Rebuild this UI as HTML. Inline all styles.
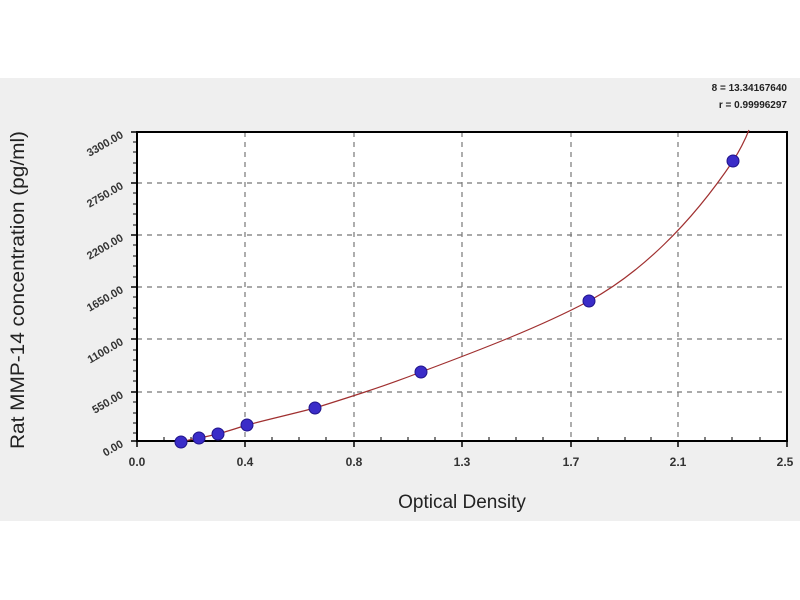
<!DOCTYPE html>
<html><head><meta charset="utf-8"><style>
html,body{margin:0;padding:0;background:#fff;}
svg{display:block;font-family:"Liberation Sans",sans-serif;}
</style></head><body>
<svg width="800" height="600" xmlns="http://www.w3.org/2000/svg">
<rect x="0" y="0" width="800" height="600" fill="#fff"/>
<rect x="0" y="78" width="800" height="443" fill="#efefef"/>
<rect x="137" y="132" width="650" height="309" fill="#fff"/>
<g stroke="#777" stroke-width="1.2" stroke-dasharray="5,5">
<line x1="137" y1="183" x2="787" y2="183"/>
<line x1="137" y1="235" x2="787" y2="235"/>
<line x1="137" y1="287" x2="787" y2="287"/>
<line x1="137" y1="339" x2="787" y2="339"/>
<line x1="137" y1="392" x2="787" y2="392"/>
<line x1="245" y1="132" x2="245" y2="441"/>
<line x1="354" y1="132" x2="354" y2="441"/>
<line x1="462" y1="132" x2="462" y2="441"/>
<line x1="571" y1="132" x2="571" y2="441"/>
<line x1="678" y1="132" x2="678" y2="441"/>
</g>
<rect x="137" y="132" width="650" height="309" fill="none" stroke="#000" stroke-width="2"/>
<g stroke="#000" stroke-width="1.5">
<line x1="131" y1="132" x2="137" y2="132"/><line x1="131" y1="183" x2="137" y2="183"/><line x1="131" y1="235" x2="137" y2="235"/><line x1="131" y1="287" x2="137" y2="287"/><line x1="131" y1="339" x2="137" y2="339"/><line x1="131" y1="392" x2="137" y2="392"/><line x1="131" y1="441" x2="137" y2="441"/>
<line x1="137" y1="441" x2="137" y2="447"/><line x1="245" y1="441" x2="245" y2="447"/><line x1="354" y1="441" x2="354" y2="447"/><line x1="462" y1="441" x2="462" y2="447"/><line x1="571" y1="441" x2="571" y2="447"/><line x1="678" y1="441" x2="678" y2="447"/><line x1="787" y1="441" x2="787" y2="447"/>
</g>
<g stroke="#000" stroke-width="1">
<line x1="133" y1="142" x2="137" y2="142"/><line x1="133" y1="152" x2="137" y2="152"/><line x1="133" y1="163" x2="137" y2="163"/><line x1="133" y1="173" x2="137" y2="173"/>
<line x1="133" y1="193" x2="137" y2="193"/><line x1="133" y1="204" x2="137" y2="204"/><line x1="133" y1="214" x2="137" y2="214"/><line x1="133" y1="225" x2="137" y2="225"/>
<line x1="133" y1="245" x2="137" y2="245"/><line x1="133" y1="256" x2="137" y2="256"/><line x1="133" y1="266" x2="137" y2="266"/><line x1="133" y1="277" x2="137" y2="277"/>
<line x1="133" y1="297" x2="137" y2="297"/><line x1="133" y1="308" x2="137" y2="308"/><line x1="133" y1="318" x2="137" y2="318"/><line x1="133" y1="329" x2="137" y2="329"/>
<line x1="133" y1="350" x2="137" y2="350"/><line x1="133" y1="360" x2="137" y2="360"/><line x1="133" y1="371" x2="137" y2="371"/><line x1="133" y1="381" x2="137" y2="381"/>
<line x1="133" y1="402" x2="137" y2="402"/><line x1="133" y1="413" x2="137" y2="413"/><line x1="133" y1="423" x2="137" y2="423"/><line x1="133" y1="433" x2="137" y2="433"/>
<line x1="164" y1="437" x2="164" y2="441"/><line x1="191" y1="437" x2="191" y2="441"/><line x1="218" y1="437" x2="218" y2="441"/>
<line x1="272" y1="437" x2="272" y2="441"/><line x1="299" y1="437" x2="299" y2="441"/><line x1="326" y1="437" x2="326" y2="441"/>
<line x1="381" y1="437" x2="381" y2="441"/><line x1="408" y1="437" x2="408" y2="441"/><line x1="435" y1="437" x2="435" y2="441"/>
<line x1="489" y1="437" x2="489" y2="441"/><line x1="516" y1="437" x2="516" y2="441"/><line x1="543" y1="437" x2="543" y2="441"/>
<line x1="598" y1="437" x2="598" y2="441"/><line x1="625" y1="437" x2="625" y2="441"/><line x1="651" y1="437" x2="651" y2="441"/>
<line x1="705" y1="437" x2="705" y2="441"/><line x1="732" y1="437" x2="732" y2="441"/><line x1="760" y1="437" x2="760" y2="441"/>
</g>
<g font-size="11" font-weight="bold" fill="#333" text-anchor="end">
<text transform="translate(124,137) rotate(-30)">3300.00</text>
<text transform="translate(124,188) rotate(-30)">2750.00</text>
<text transform="translate(124,240) rotate(-30)">2200.00</text>
<text transform="translate(124,292) rotate(-30)">1650.00</text>
<text transform="translate(124,344) rotate(-30)">1100.00</text>
<text transform="translate(124,397) rotate(-30)">550.00</text>
<text transform="translate(124,446) rotate(-30)">0.00</text>
</g>
<g font-size="12" font-weight="bold" fill="#333" text-anchor="middle">
<text x="137" y="466">0.0</text><text x="245" y="466">0.4</text><text x="354" y="466">0.8</text><text x="462" y="466">1.3</text><text x="571" y="466">1.7</text><text x="678" y="466">2.1</text><text x="785" y="466">2.5</text>
</g>
<text x="462" y="508" font-size="19" text-anchor="middle" fill="#222">Optical Density</text>
<text transform="translate(24,290) rotate(-90)" font-size="19" text-anchor="middle" fill="#222" textLength="318" lengthAdjust="spacingAndGlyphs">Rat MMP-14 concentration (pg/ml)</text>
<g font-size="10" font-weight="bold" fill="#222" text-anchor="end">
<text x="787" y="91">8 = 13.34167640</text>
<text x="787" y="108">r = 0.99996297</text>
</g>
<path d="M181,442 C190,440 195,438 199,438 C206,437 212,435 218,434 C228,431 238,428 247,425 C270,419 292,414 315,408 C350,397 385,386 421,372 C480,350 540,327 589,301 C640,273 690,225 733,161 C740,150 745,140 749,130" fill="none" stroke="#a03030" stroke-width="1.2"/>
<g fill="#3a2cc8" stroke="#20148a" stroke-width="1">
<circle cx="181" cy="442" r="6"/><circle cx="199" cy="438" r="6"/><circle cx="218" cy="434" r="6"/><circle cx="247" cy="425" r="6"/><circle cx="315" cy="408" r="6"/><circle cx="421" cy="372" r="6"/><circle cx="589" cy="301" r="6"/><circle cx="733" cy="161" r="6"/>
</g>
</svg>
</body></html>
